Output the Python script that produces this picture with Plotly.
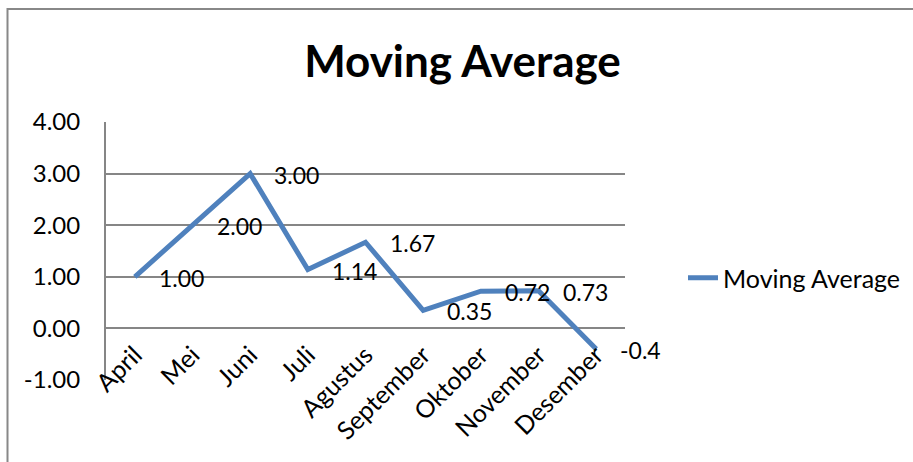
import plotly.graph_objects as go

months = ["April", "Mei", "Juni", "Juli", "Agustus", "September", "Oktober", "November", "Desember"]
moving_avg = [1.00, 2.00, 3.00, 1.14, 1.67, 0.35, 0.72, 0.73, -0.4]
value_labels = ["1.00", "2.00", "3.00", "1.14", "1.67", "0.35", "0.72", "0.73", "-0.4"]
y_ticks = [-1, 0, 1, 2, 3, 4]
y_tick_text = ["-1.00", "0.00", "1.00", "2.00", "3.00", "4.00"]

W, H = 913, 462
L, R, T, B = 106, 288, 122, 82
pw, ph = W - L - R, H - T - B
Y_MIN, Y_MAX = -1, 4


def px_x(v):
    return (v - L) / pw


def px_y(v):
    return (H - B - v) / ph


FONT = "Lato"

fig = go.Figure()
fig.add_trace(go.Scatter(
    x=months, y=moving_avg, mode="lines",
    name="Moving Average",
    line=dict(color="#4F81BD", width=5),
    cliponaxis=False,
))

# data labels sit to the right of each point
for m, v, lab in zip(months, moving_avg, value_labels):
    fig.add_annotation(x=m, y=v, text=lab, showarrow=False,
                       xanchor="left", yanchor="middle", xshift=22, yshift=-1,
                       font=dict(family=FONT, size=23, color="black"))

fig.update_layout(
    width=W, height=H,
    margin=dict(l=L, r=R, t=T, b=B, autoexpand=False),
    paper_bgcolor="white", plot_bgcolor="white",
    font=dict(family=FONT, size=22, color="black"),
    title=dict(text="<b>Moving Average</b>", x=(305 + 620) / 2 / W, xanchor="center",
               y=1 - 62 / H, yanchor="middle",
               font=dict(family=FONT, size=44, color="black")),
    showlegend=True,
    legend=dict(x=px_x(683), xanchor="left", y=px_y(278), yanchor="middle",
                font=dict(family=FONT, size=25, color="black"),
                bgcolor="rgba(0,0,0,0)"),
    # category axis crosses the value axis at zero
    xaxis=dict(type="category", range=[-0.5, 8.5], showgrid=False,
               anchor="free", position=(0 - Y_MIN) / (Y_MAX - Y_MIN),
               automargin=False,
               tickangle=-45, ticks="", showline=False, zeroline=False,
               ticklabelstandoff=6,
               tickfont=dict(family=FONT, size=25, color="black")),
    yaxis=dict(range=[Y_MIN, Y_MAX], tickvals=y_ticks, ticktext=y_tick_text,
               automargin=False,
               showgrid=True, gridcolor="#868686", gridwidth=2,
               zeroline=False, showline=True, linecolor="#868686", linewidth=2,
               ticks="", ticklen=0, ticklabelstandoff=19,
               tickfont=dict(family=FONT, size=24, color="black")),
    shapes=[dict(type="rect", xref="paper", yref="paper",
                 x0=px_x(7.5), x1=px_x(925), y0=px_y(475), y1=px_y(9),
                 line=dict(color="#888888", width=2), layer="below")],
)

fig.write_html("out.html")
